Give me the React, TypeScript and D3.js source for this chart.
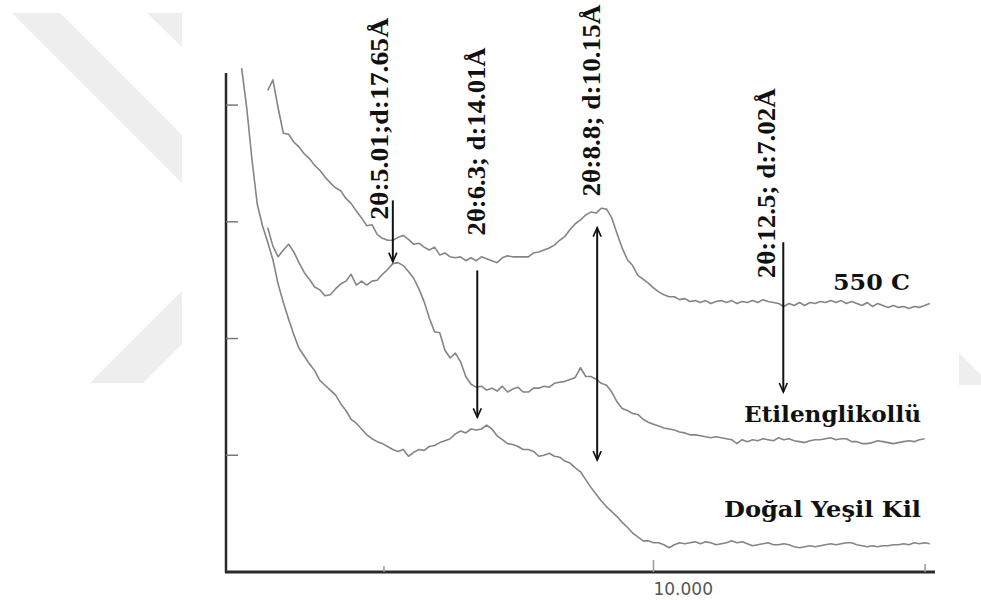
import * as d3 from 'd3';

// XRD traces, one value every 0.1° 2θ (arbitrary intensity units)
const THETA_STEP = 0.1;

const HEATED_START = 2.6; // 550 C
const HEATED = [
  495, 506, 477, 451, 450, 442, 437, 430, 425, 418, // 2.6 - 3.5
  413, 406, 400, 395, 392, 384, 379, 371, 364, 356, // 3.6 - 4.5
  357, 347, 343, 341, 341, 344, 346, 342, 337, 338, // 4.6 - 5.5
  334, 331, 334, 326, 328, 324, 323, 324, 320, 323, // 5.6 - 6.5
  320, 324, 322, 320, 318, 323, 325, 324, 324, 324, // 6.6 - 7.5
  324, 328, 329, 331, 333, 336, 341, 345, 352, 358, // 7.6 - 8.5
  362, 367, 370, 369, 374, 373, 364, 348, 333, 321, // 8.6 - 9.5
  315, 305, 301, 297, 292, 288, 285, 283, 283, 280, // 9.6 - 10.5
  281, 278, 279, 277, 279, 276, 278, 279, 277, 279, // 10.6 - 11.5
  276, 278, 277, 279, 277, 280, 278, 277, 276, 273, // 11.6 - 12.5
  276, 274, 277, 274, 277, 276, 278, 277, 279, 277, // 12.6 - 13.5
  279, 276, 278, 276, 274, 277, 273, 276, 274, 272, // 13.6 - 14.5
  274, 272, 273, 271, 273, 272, 274, 276, // 14.6 - 15.3
];

const GLYCOL_START = 2.6; // Etilenglikollü
const GLYCOL = [
  354, 335, 324, 331, 337, 329, 318, 308, 301, 293,
  290, 284, 285, 291, 296, 299, 306, 295, 299, 295,
  299, 300, 306, 311, 317, 318, 315, 309, 302, 291,
  278, 261, 247, 246, 228, 220, 225, 216, 201, 193,
  190, 191, 187, 189, 186, 191, 185, 188, 190, 185,
  185, 189, 189, 191, 190, 194, 195, 196, 198, 200,
  210, 201, 201, 198, 194, 192, 185, 175, 168, 166,
  163, 162, 157, 154, 152, 150, 148, 147, 146, 144,
  143, 141, 141, 140, 139, 138, 139, 138, 137, 136,
  132, 136, 134, 136, 135, 137, 136, 135, 138, 136,
  137, 135, 134, 133, 135, 136, 136, 137, 138, 136,
  137, 137, 134, 134, 132, 132, 133, 135, 134, 133,
  132, 133, 134, 135, 134, 136, 137,
];

const NATURAL_START = 2.1; // Doğal Yeşil Kil
const NATURAL = [
  518, 476, 423, 378, 356, 339, 321, 296, 277, 260,
  244, 230, 222, 214, 207, 197, 192, 187, 182, 173,
  166, 157, 153, 147, 141, 137, 134, 132, 129, 126,
  124, 126, 119, 123, 126, 125, 129, 130, 133, 135,
  137, 142, 145, 143, 147, 146, 147, 151, 147, 140,
  136, 132, 131, 129, 126, 126, 124, 119, 120, 122,
  119, 118, 114, 112, 107, 103, 95, 87, 80, 73,
  67, 62, 57, 51, 46, 40, 36, 32, 32, 30,
  30, 28, 25, 28, 30, 29, 30, 31, 29, 31,
  30, 28, 29, 30, 32, 30, 31, 29, 27, 28,
  29, 30, 28, 28, 29, 28, 26, 25, 26, 27,
  26, 27, 28, 29, 28, 29, 30, 30, 28, 27,
  26, 27, 26, 27, 27, 28, 28, 29, 28, 30,
  29, 30, 29,
];

const SERIES_NAMES = ['550 C', 'Etilenglikollü', 'Doğal Yeşil Kil'];

// peak annotations
const PEAK_LABELS = [
  '2θ:5.01;d:17.65Å',
  '2θ:6.3; d:14.01Å',
  '2θ:8.8; d:10.15Å',
  '2θ:12.5; d:7.02Å',
];
const PEAK_THETA = [5.0, 6.62, 8.92, 12.49];
const ARROW_FROM = [382, 310, 354, 339];
const ARROW_TO = [319, 159, 115, 185];
const ARROW_BOTH = [false, false, true, false];
const PEAK_LABEL_START = [362, 346, 386, 302];

const X_TICKS = [4.83, 10, 15.21];
const X_TICK_LABELS = ['', '10.000', ''];
const Y_TICKS = [120, 240, 360, 480];

// layout
const W = 981;
const H = 600;
const PLOT = { left: 226, right: 935, top: 72, bottom: 572 };
const PEAK_LABEL_DX = [-13, 0, -5, -16];
const PEAK_LABEL_LEN = [202, 188, 192, 190];
const X_TICK_LEN = [6, 12, 8];
const NAME_POS = [
  { x: 910, y: 290, len: 77 },
  { x: 921, y: 422, len: 177 },
  { x: 921, y: 517, len: 197 },
];
const WATERMARK = [
  '12,13 60,13 182,135 182,183',
  '147,13 182,13 182,47',
  '90,383 143,383 182,344 182,291',
  '959,353 981,375 981,385 959,385',
];

const LINE_COLOR = '#858585';
const INK = '#111';

export default function App() {
  const x = d3.scaleLinear().domain([1.8, 15.4]).range([PLOT.left, PLOT.right]);
  const y = d3.scaleLinear().domain([0, 514]).range([PLOT.bottom, PLOT.top]);

  const traces = [
    { start: HEATED_START, values: HEATED },
    { start: GLYCOL_START, values: GLYCOL },
    { start: NATURAL_START, values: NATURAL },
  ];

  const pathFor = (start: number, values: number[]) =>
    d3
      .line<number>()
      .x((_, i) => x(start + i * THETA_STEP))
      .y((d) => y(d))(values) ?? '';

  const head = (ax: number, ay: number, dir: 1 | -1) =>
    `M${ax - 4},${ay - 9 * dir} L${ax},${ay} L${ax + 4},${ay - 9 * dir}`;

  return (
    <svg
      width={W}
      height={H}
      viewBox={`0 0 ${W} ${H}`}
      style={{ position: 'absolute', left: 0, top: 0, background: '#fff' }}
    >
      {WATERMARK.map((pts, i) => (
        <polygon key={`wm-${i}`} points={pts} fill="#eeeeee" />
      ))}

      {traces.map((t, i) => (
        <path
          key={SERIES_NAMES[i]}
          d={pathFor(t.start, t.values)}
          fill="none"
          stroke={LINE_COLOR}
          strokeWidth={1.6}
          strokeLinejoin="round"
        />
      ))}

      {/* axes */}
      <line x1={PLOT.left} x2={PLOT.left} y1={PLOT.top + 1} y2={PLOT.bottom + 1} stroke="#2a2a2a" strokeWidth={2.5} />
      <line x1={PLOT.left - 1} x2={PLOT.right} y1={PLOT.bottom} y2={PLOT.bottom} stroke="#2a2a2a" strokeWidth={3} />
      {Y_TICKS.map((v) => (
        <line key={`yt-${v}`} x1={PLOT.left} x2={PLOT.left + 12} y1={y(v)} y2={y(v)} stroke="#777" strokeWidth={1.5} />
      ))}
      {X_TICKS.map((v, i) => (
        <g key={`xt-${v}`}>
          <line x1={x(v)} x2={x(v)} y1={PLOT.bottom} y2={PLOT.bottom - X_TICK_LEN[i]} stroke="#999" strokeWidth={1.5} />
          {X_TICK_LABELS[i] ? (
            <text
              x={x(v)}
              y={595}
              fontFamily="'DejaVu Sans', sans-serif"
              fontSize={17}
              fill="#555"
            >
              {X_TICK_LABELS[i]}
            </text>
          ) : null}
        </g>
      ))}

      {/* peak arrows and labels */}
      {PEAK_LABELS.map((label, i) => {
        const ax = x(PEAK_THETA[i]);
        const y1 = y(ARROW_FROM[i]);
        const y2 = y(ARROW_TO[i]);
        const lx = ax + PEAK_LABEL_DX[i] + 8;
        const ly = y(PEAK_LABEL_START[i]);
        return (
          <g key={label}>
            <line x1={ax} x2={ax} y1={y1} y2={y2} stroke={INK} strokeWidth={2} />
            <path d={head(ax, y2, 1)} fill="none" stroke={INK} strokeWidth={1.6} />
            {ARROW_BOTH[i] ? (
              <path d={head(ax, y1, -1)} fill="none" stroke={INK} strokeWidth={1.6} />
            ) : null}
            <text
              transform={`translate(${lx},${ly}) rotate(-90)`}
              fontFamily="'Liberation Serif', 'Times New Roman', serif"
              fontWeight="bold"
              fontSize={25}
              fill={INK}
              textLength={PEAK_LABEL_LEN[i]}
              lengthAdjust="spacingAndGlyphs"
            >
              {label}
            </text>
          </g>
        );
      })}

      {SERIES_NAMES.map((name, i) => (
        <text
          key={`name-${name}`}
          x={NAME_POS[i].x - NAME_POS[i].len}
          y={NAME_POS[i].y}
          fontFamily="'DejaVu Serif', serif"
          fontWeight="bold"
          fontSize={22}
          fill={INK}
          textLength={NAME_POS[i].len}
          lengthAdjust="spacingAndGlyphs"
        >
          {name}
        </text>
      ))}
    </svg>
  );
}
